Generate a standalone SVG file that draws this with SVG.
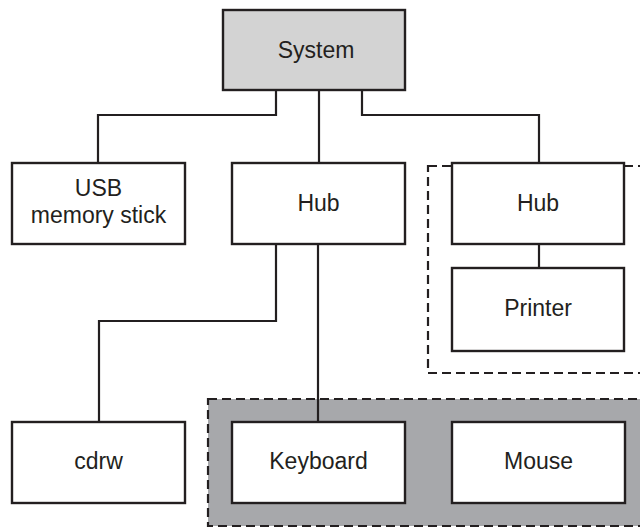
<svg xmlns="http://www.w3.org/2000/svg" width="640" height="528" viewBox="0 0 640 528">
<style>
.box{fill:#fff;stroke:#231f20;stroke-width:2.4}
.grp{stroke:#231f20;stroke-width:2.2;stroke-dasharray:9 5}
.wire{fill:none;stroke:#231f20;stroke-width:2.2}
text{font-family:"Liberation Sans",Arial,sans-serif;font-size:23px;fill:#231f20;text-anchor:middle}
</style>
<rect width="640" height="528" fill="#fff"/>
<g id="group-printer"><rect class="grp" x="428" y="166" width="230" height="207" fill="none"/></g>
<g id="group-input"><rect class="grp" x="208" y="399" width="450" height="127" fill="#a7a8ab"/></g>
<g id="connectors">
<polyline class="wire" points="276,90 276,115 98,115 98,163"/>
<line class="wire" x1="319" y1="90" x2="319" y2="163"/>
<polyline class="wire" points="362,90 362,115 539,115 539,163"/>
<line class="wire" x1="539" y1="244" x2="539" y2="268"/>
<polyline class="wire" points="276,244 276,321 99,321 99,422"/>
<line class="wire" x1="318" y1="244" x2="318" y2="422"/>
</g>
<g id="system"><rect class="box" x="223" y="10" width="182" height="80" style="fill:#d3d3d3"/><text x="316" y="58">System</text></g>
<g id="usb"><rect class="box" x="12" y="163" width="173" height="81"/><text x="98.5" y="196">USB</text><text x="98.5" y="223">memory stick</text></g>
<g id="hub1"><rect class="box" x="232" y="163" width="173" height="81"/><text x="318.5" y="211">Hub</text></g>
<g id="hub2"><rect class="box" x="452" y="163" width="172" height="81"/><text x="538" y="211">Hub</text></g>
<g id="printer"><rect class="box" x="452" y="268" width="172" height="83"/><text x="538" y="316">Printer</text></g>
<g id="cdrw"><rect class="box" x="12" y="422" width="173" height="81"/><text x="98.5" y="469">cdrw</text></g>
<g id="keyboard"><rect class="box" x="232" y="422" width="173" height="81"/><text x="318.5" y="469">Keyboard</text></g>
<g id="mouse"><rect class="box" x="452" y="422" width="173" height="81"/><text x="538.5" y="469">Mouse</text></g>
</svg>
